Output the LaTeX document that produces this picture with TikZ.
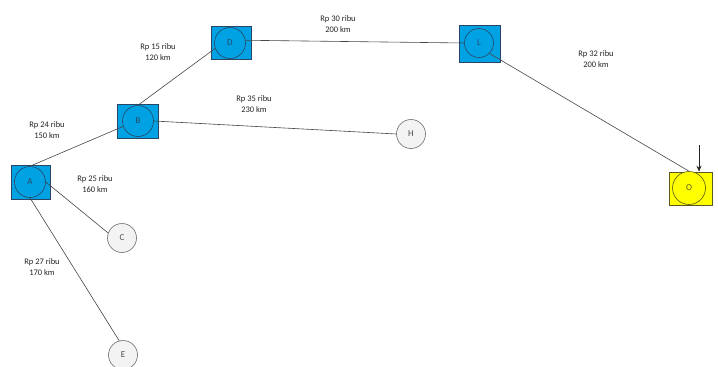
\documentclass[tikz,border=0pt]{standalone}
\usepackage{fontspec}
\setmainfont{Carlito}
\usetikzlibrary{arrows.meta}
\definecolor{nodeblue}{RGB}{0,162,228}
\definecolor{blueedge}{RGB}{40,70,100}
\definecolor{nodeyellow}{RGB}{255,255,0}
\definecolor{yellowedge}{RGB}{90,90,30}
\definecolor{plainfill}{RGB}{243,243,243}
\definecolor{plainedge}{RGB}{110,110,110}
\definecolor{wire}{RGB}{70,70,70}
\begin{document}
\begin{tikzpicture}[x=1pt,y=-1pt,
  box/.style={draw=blueedge,fill=nodeblue,line width=0.6pt,minimum width=#1,inner sep=0pt},
  bluecirc/.style={circle,draw=blueedge,fill=nodeblue,line width=0.6pt,minimum size=31pt,inner sep=0pt,font=\fontsize{9}{10}\selectfont,text=blueedge},
  ybox/.style={draw=yellowedge,fill=nodeyellow,line width=0.6pt,inner sep=0pt},
  ycirc/.style={circle,draw=yellowedge,fill=nodeyellow,line width=0.6pt,minimum size=33pt,inner sep=0pt,font=\fontsize{9}{10}\selectfont,text=yellowedge},
  plain/.style={circle,draw=plainedge,fill=plainfill,line width=0.6pt,minimum size=29pt,inner sep=0pt,font=\fontsize{9}{10}\selectfont,text=black!70},
  cost/.style={align=center,font=\fontsize{8.5}{11}\selectfont,text=black!85},
  road/.style={draw=wire,line width=0.6pt}]
\useasboundingbox (0,0) rectangle (718,367);
\fill[white] (0,0) rectangle (718,367);

% square backgrounds of the visited stops
\node[box=39pt,minimum height=34pt] (sqA) at (30.5,182) {};
\node[box=41pt,minimum height=34pt] (sqB) at (137.5,121) {};
\node[box=40pt,minimum height=33pt] (sqD) at (231,42.5) {};
\node[box=41pt,minimum height=37pt] (sqL) at (479.5,43.5) {};
\node[ybox,minimum width=43pt,minimum height=33pt] (sqO) at (690.5,188.5) {};

% stops
\node[bluecirc] (A) at (30,182) {A};
\node[bluecirc] (B) at (138,121) {B};
\node[bluecirc] (D) at (230,43) {D};
\node[bluecirc,minimum size=29pt] (L) at (479,43) {L};
\node[ycirc] (O) at (689,188) {O};
\node[plain] (H) at (411,134) {H};
\node[plain] (C) at (122,238) {C};
\node[plain] (E) at (123,355) {E};

% roads
\draw[road] (A.north) -- (B.200);
\draw[road] (B.north) -- (D.200);
\draw[road] (D.10) -- (L.west);
\draw[road] (L.-45) -- (O.north);
\draw[road] (B.east) -- (H.west);
\draw[road] (A.east) -- (C.160);
\draw[road] (A.south) -- (E.105);

% destination marker
\coordinate (mk) at (699,145);
\draw[-{Stealth[length=6pt,width=5pt]},line width=0.7pt,black!85] (mk) -- (sqO.north -| mk);

% costs and distances
\node[cost] (cAB) at (47,130) {Rp 24 ribu\\150 km};
\node[cost] (cBD) at (158,52) {Rp 15 ribu\\120 km};
\node[cost] (cDL) at (338,24) {Rp 30 ribu\\200 km};
\node[cost] (cBH) at (254,104) {Rp 35 ribu\\230 km};
\node[cost] (cAC) at (95,184) {Rp 25 ribu\\160 km};
\node[cost] (cAE) at (42,267) {Rp 27 ribu\\170 km};
\node[cost] (cLO) at (596,59) {Rp 32 ribu\\200 km};
\end{tikzpicture}
\end{document}
